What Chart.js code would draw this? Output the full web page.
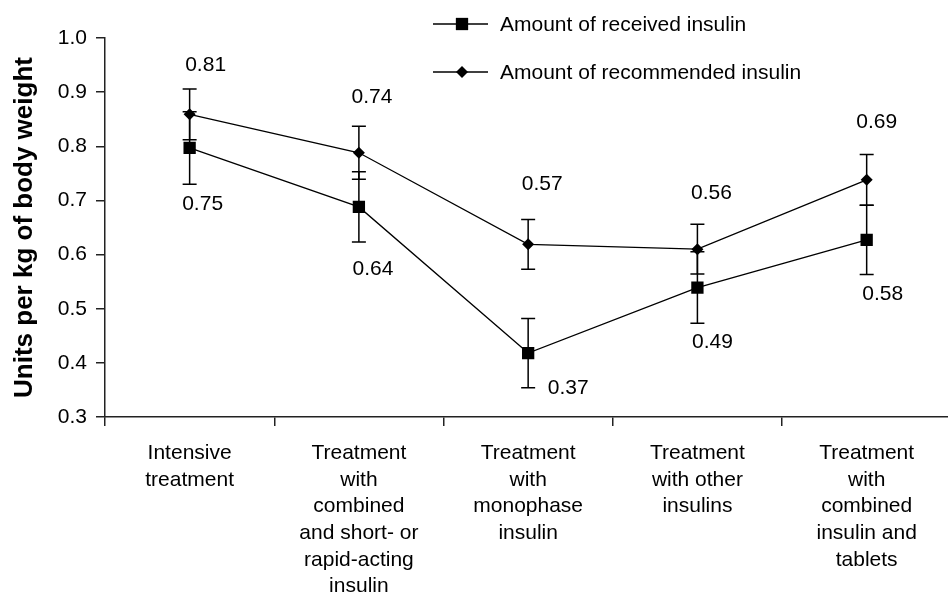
<!DOCTYPE html>
<html>
<head>
<meta charset="utf-8">
<script src="https://cdn.jsdelivr.net/npm/chart.js@4.4.0/dist/chart.umd.min.js"></script>
<style>
  html, body { margin: 0; padding: 0; overflow: hidden; background: #fff; }
  #wrap { width: 960px; height: 594px; }
</style>
</head>
<body>
<div id="wrap"><canvas id="insulinChart"></canvas></div>
<script>
// data
const categories = [
  ['Intensive', 'treatment'],
  ['Treatment', 'with', 'combined', 'and short- or', 'rapid-acting', 'insulin'],
  ['Treatment', 'with', 'monophase', 'insulin'],
  ['Treatment', 'with other', 'insulins'],
  ['Treatment', 'with', 'combined', 'insulin and', 'tablets']
];
const receivedValues = [0.797, 0.688, 0.418, 0.539, 0.627];
const receivedErrors = [0.067, 0.065, 0.064, 0.066, 0.064];
const recommendedValues = [0.859, 0.788, 0.619, 0.610, 0.738];
const recommendedErrors = [0.047, 0.049, 0.046, 0.046, 0.047];
const receivedLabels = ['0.75', '0.64', '0.37', '0.49', '0.58'];
const recommendedLabels = ['0.81', '0.74', '0.57', '0.56', '0.69'];
const yTicks = [0.3, 0.4, 0.5, 0.6, 0.7, 0.8, 0.9, 1.0];

const FONT = "'Liberation Sans', Arial, sans-serif";

// label nudges (px) from the end of each error bar
const aboveShift = [[16, -24], [13, -29], [14, -35], [14, -31], [10, -32]];
const belowShift = [[13, 20], [14, 27], [40, 0], [15, 19], [16, 20]];

const errorBars = {
  id: 'errorBars',
  beforeDatasetsDraw(chart) {
    const ctx = chart.ctx;
    const x = chart.scales.x, y = chart.scales.y;
    const sets = [[receivedValues, receivedErrors], [recommendedValues, recommendedErrors]];
    ctx.save();
    ctx.strokeStyle = '#000';
    ctx.lineWidth = 1.5;
    sets.forEach(([vals, errs]) => {
      vals.forEach((v, i) => {
        const px = x.getPixelForValue(i);
        const top = y.getPixelForValue(v + errs[i]);
        const bot = y.getPixelForValue(v - errs[i]);
        ctx.beginPath();
        ctx.moveTo(px, top); ctx.lineTo(px, bot);
        ctx.moveTo(px - 7, top); ctx.lineTo(px + 7, top);
        ctx.moveTo(px - 7, bot); ctx.lineTo(px + 7, bot);
        ctx.stroke();
      });
    });
    ctx.restore();
  }
};

const valueLabels = {
  id: 'valueLabels',
  afterDatasetsDraw(chart) {
    const ctx = chart.ctx;
    const x = chart.scales.x, y = chart.scales.y;
    ctx.save();
    ctx.fillStyle = '#000';
    ctx.font = '21px ' + FONT;
    ctx.textAlign = 'center';
    ctx.textBaseline = 'middle';
    recommendedLabels.forEach((t, i) => {
      const px = x.getPixelForValue(i);
      const py = y.getPixelForValue(recommendedValues[i] + recommendedErrors[i]);
      ctx.fillText(t, px + aboveShift[i][0], py + aboveShift[i][1]);
    });
    receivedLabels.forEach((t, i) => {
      const px = x.getPixelForValue(i);
      const py = y.getPixelForValue(receivedValues[i] - receivedErrors[i]);
      ctx.fillText(t, px + belowShift[i][0], py + belowShift[i][1]);
    });
    ctx.restore();
  }
};

const lineLegend = {
  id: 'lineLegend',
  afterDraw(chart) {
    const ctx = chart.ctx;
    ctx.save();
    chart.data.datasets.forEach((ds, i) => {
      const yy = 24 + i * 48;
      ctx.strokeStyle = '#000';
      ctx.fillStyle = '#000';
      ctx.lineWidth = 1.3;
      ctx.beginPath();
      ctx.moveTo(433, yy); ctx.lineTo(488, yy);
      ctx.stroke();
      Chart.helpers.drawPoint(ctx, { pointStyle: ds.pointStyle, radius: ds.pointRadius, borderWidth: 0, rotation: 0 }, 462, yy);
      ctx.font = '21px ' + FONT;
      ctx.textAlign = 'left';
      ctx.textBaseline = 'middle';
      ctx.fillText(ds.label, 500, yy + 1);
    });
    ctx.restore();
  }
};

new Chart(document.getElementById('insulinChart'), {
  type: 'line',
  data: {
    labels: categories,
    datasets: [
      {
        label: 'Amount of received insulin',
        data: receivedValues,
        borderColor: '#000',
        backgroundColor: '#000',
        borderWidth: 1.3,
        pointStyle: 'rect',
        pointRadius: 8.7,
        pointBorderWidth: 0,
        tension: 0
      },
      {
        label: 'Amount of recommended insulin',
        data: recommendedValues,
        borderColor: '#000',
        backgroundColor: '#000',
        borderWidth: 1.3,
        pointStyle: 'rectRot',
        pointRadius: 6,
        pointBorderWidth: 0,
        tension: 0
      }
    ]
  },
  options: {
    responsive: true,
    maintainAspectRatio: false,
    animation: false,
    layout: { padding: { top: 38, right: 4, left: 0, bottom: 0 } },
    plugins: {
      legend: { display: false },
      tooltip: { enabled: false }
    },
    scales: {
      x: {
        offset: true,
        afterFit(scale) { scale.height = 177; },
        grid: { offset: true, drawOnChartArea: false, tickLength: 9, color: '#222', lineWidth: 1.5 },
        border: { color: '#222', width: 1.5 },
        ticks: {
          autoSkip: false,
          maxRotation: 0,
          padding: 14,
          color: '#000',
          font: { family: FONT, size: 21, lineHeight: 1.27 }
        }
      },
      y: {
        min: 0.3,
        max: 1.0,
        afterFit(scale) { scale.width = 105; },
        afterBuildTicks(scale) { scale.ticks = yTicks.map(v => ({ value: v })); },
        grid: { drawOnChartArea: false, tickLength: 9, color: '#222', lineWidth: 1.5 },
        border: { color: '#222', width: 1.5 },
        ticks: {
          padding: 9,
          color: '#000',
          font: { family: FONT, size: 21 },
          callback: v => Number(v).toFixed(1)
        },
        title: {
          display: true,
          text: 'Units per kg of body weight',
          color: '#000',
          padding: { top: 9, bottom: 0 },
          font: { family: FONT, size: 26, weight: 'bold' }
        }
      }
    }
  },
  plugins: [errorBars, valueLabels, lineLegend]
});
</script>
</body>
</html>
